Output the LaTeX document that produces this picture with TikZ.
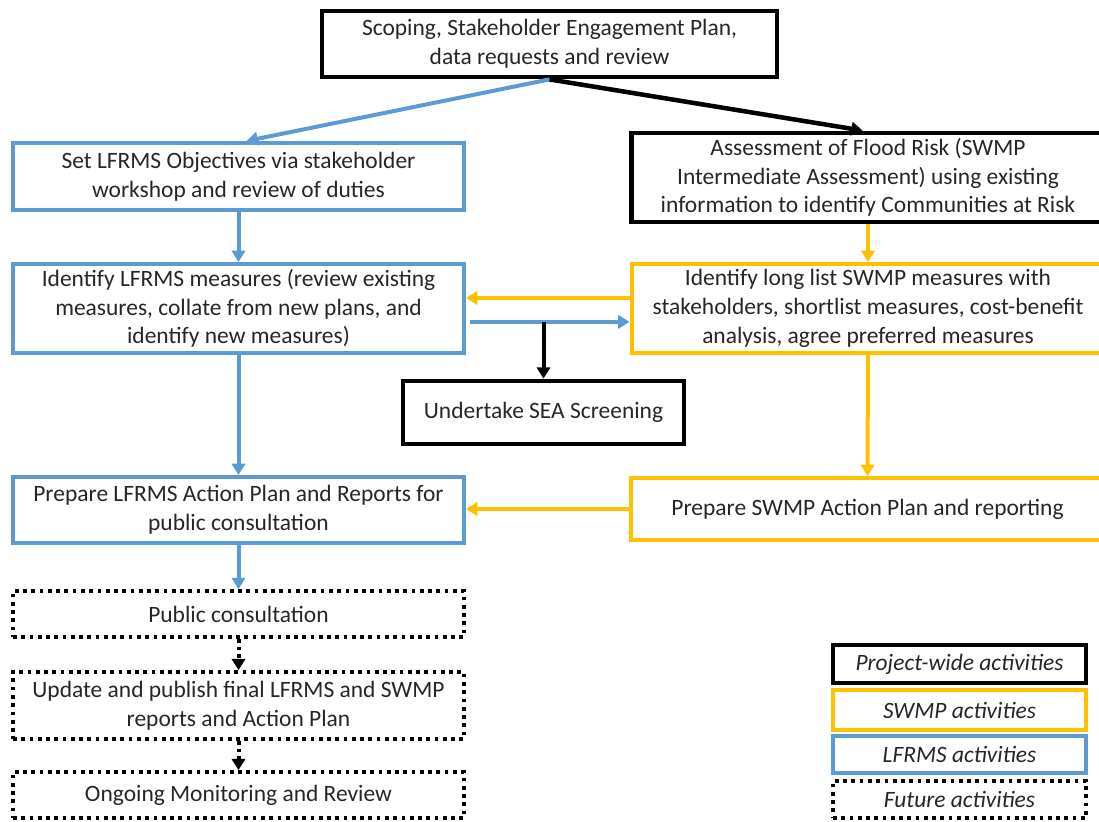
\documentclass[tikz,border=0pt]{standalone}
\usepackage{fontspec}
\setmainfont{Carlito}
\usetikzlibrary{arrows.meta,calc}
\definecolor{lblue}{HTML}{5B9BD5}
\definecolor{lorange}{HTML}{FFC000}
\definecolor{txt}{HTML}{262626}
\tikzset{
  boxbase/.style={rectangle, inner sep=0pt, align=center, text=txt,
    font=\fontsize{17.6}{21.5}\selectfont},
  kbox/.style={boxbase, draw=black, line width=3.6pt},
  bbox/.style={boxbase, draw=lblue, line width=3pt},
  obox/.style={boxbase, draw=lorange, line width=3pt},
  fbox/.style={boxbase, draw=black, line width=2.8pt, dash pattern=on 2.8pt off 3.4pt},
  leg/.style={font=\fontsize{17.6}{21.5}\selectfont\itshape, minimum width=189.75pt},
  tip/.style={-{Triangle[length=8.5pt,width=10pt]}},
  karrow/.style={tip, draw=black, line width=3pt},
  barrow/.style={tip, draw=lblue, line width=3pt},
  oarrow/.style={tip, draw=lorange, line width=3pt},
  farrow/.style={tip, draw=black, line width=3pt, dash pattern=on 2.8pt off 3pt},
}
\begin{document}
\begin{tikzpicture}[x=0.75pt, y=-0.75pt]
\useasboundingbox (0,0) rectangle (1099,821);
\node[kbox, minimum width=341.25pt, minimum height=49.5pt] (scope) at (549.5,44)
  {Scoping, Stakeholder Engagement Plan,\\data requests and review};
\node[bbox, minimum width=338.25pt, minimum height=50.25pt] (obj) at (238.5,176.5)
  {Set LFRMS Objectives via stakeholder\\workshop and review of duties};
\node[kbox, minimum width=354.75pt, minimum height=66.75pt] (assess) at (868,177.5)
  {Assessment of Flood Risk (SWMP\\Intermediate Assessment) using existing\\information to identify Communities at Risk};
\node[bbox, minimum width=338.25pt, minimum height=66.75pt] (meas) at (238.5,308.5)
  {Identify LFRMS measures (review existing\\measures, collate from new plans, and\\identify new measures)};
\node[obox, minimum width=354.75pt, minimum height=66.75pt] (long) at (868,308.5)
  {Identify long list SWMP measures with\\stakeholders, shortlist measures, cost-benefit\\analysis, agree preferred measures};
\node[kbox, minimum width=210.75pt, minimum height=47.25pt] (sea) at (543.5,412.5)
  {Undertake SEA Screening};
\node[bbox, minimum width=338.25pt, minimum height=49.5pt] (prepL) at (238.5,510)
  {Prepare LFRMS Action Plan and Reports for\\public consultation};
\node[obox, minimum width=355.5pt, minimum height=46.5pt] (prepS) at (867.5,509)
  {Prepare SWMP Action Plan and reporting};
\node[fbox, minimum width=338.25pt, minimum height=34.5pt] (pub) at (238.5,614)
  {Public consultation};
\node[fbox, minimum width=338.25pt, minimum height=50.25pt] (upd) at (238.5,705.5)
  {Update and publish final LFRMS and SWMP\\reports and Action Plan};
\node[fbox, minimum width=338.25pt, minimum height=34.5pt] (ong) at (238.5,795)
  {Ongoing Monitoring and Review};
% legend
\node[kbox, leg, minimum height=28.5pt] (l1) at (959.5,664) {Project-wide activities};
\node[obox, leg, minimum height=30pt] (l2) at (959.5,710) {SWMP activities};
\node[bbox, leg, minimum height=27.75pt] (l3) at (959.5,754.5) {LFRMS activities};
\node[fbox, leg, minimum height=27.75pt] (l4) at (959.5,799.5) {Future activities};
% connectors
\draw[barrow] (scope.south) -- ([xshift=6pt]obj.north);
\draw[karrow, line width=3.4pt] (scope.south) -- ([xshift=-4pt]assess.north);
\draw[barrow] (obj.south) -- (meas.north);
\draw[oarrow] (assess.south) -- (long.north);
\draw[oarrow] ([yshift=7.9pt]long.west) -- ([yshift=7.9pt]meas.east);
\coordinate (bl) at ([yshift=-10pt]meas.east);
\draw[barrow] ([xshift=3pt]bl) -- (bl -| long.west);
\draw[karrow] (bl -| sea.north) -- (sea.north);
\draw[barrow] (meas.south) -- (prepL.north);
\draw[oarrow] (long.south) -- (prepS.north);
\draw[oarrow] (prepS.west) -- (prepS.west -| prepL.east);
\draw[barrow] (prepL.south) -- (pub.north);
\draw[farrow] (pub.south) -- (upd.north);
\draw[farrow] (upd.south) -- (ong.north);
\end{tikzpicture}
\end{document}
